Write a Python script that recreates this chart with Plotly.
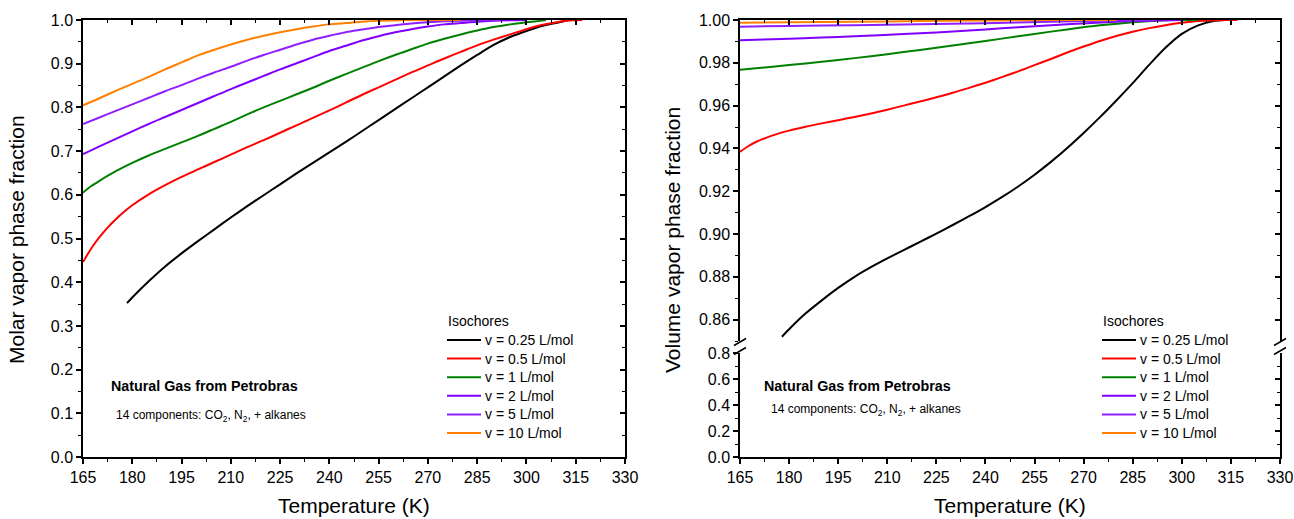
import plotly.graph_objects as go

# ---------------- data ----------------
series_names = ["v = 0.25 L/mol", "v = 0.5 L/mol", "v = 1 L/mol",
                "v = 2 L/mol", "v = 5 L/mol", "v = 10 L/mol"]
series_colors = ["#000000", "#FF0000", "#008000", "#7F00FF", "#8F1FFF", "#FF8000"]
legend_title = "Isochores"

# Molar vapor phase fraction along each isochore
t_molar_025 = [178.4, 180, 185, 190, 195, 200, 205, 210, 215, 220, 225, 230, 235, 240, 245,
               250, 255, 260, 265, 270, 275, 280, 285, 290, 295, 300, 305, 310, 313]
x_molar_025 = [0.352, 0.365, 0.402, 0.436, 0.466, 0.494, 0.521, 0.548, 0.574, 0.599, 0.624,
               0.649, 0.673, 0.697, 0.721, 0.746, 0.771, 0.796, 0.821, 0.846, 0.871, 0.896,
               0.920, 0.943, 0.961, 0.975, 0.987, 0.995, 1.0]

t_molar_05 = [165, 167.5, 170, 172.5, 175, 177.5, 180, 185, 190, 195, 200, 205, 210, 215,
              220, 225, 230, 235, 240, 245, 250, 255, 260, 265, 270, 275, 280, 285, 290,
              295, 300, 305, 310, 314, 317]
x_molar_05 = [0.446, 0.477, 0.503, 0.525, 0.544, 0.561, 0.576, 0.601, 0.622, 0.641, 0.658,
              0.675, 0.692, 0.709, 0.725, 0.742, 0.759, 0.776, 0.793, 0.811, 0.829, 0.846,
              0.863, 0.880, 0.896, 0.912, 0.927, 0.942, 0.955, 0.967, 0.979, 0.989, 0.996,
              0.9995, 1.0]

t_molar_1 = [165, 167.5, 170, 175, 180, 185, 190, 195, 200, 205, 210, 215, 220, 225, 230,
             235, 240, 245, 250, 255, 260, 265, 270, 275, 280, 285, 290, 295, 300, 303, 306]
x_molar_1 = [0.605, 0.620, 0.632, 0.654, 0.673, 0.690, 0.705, 0.720, 0.735, 0.751, 0.767,
             0.784, 0.800, 0.815, 0.830, 0.845, 0.861, 0.876, 0.891, 0.906, 0.920, 0.933,
             0.946, 0.957, 0.967, 0.976, 0.984, 0.990, 0.995, 0.997, 1.0]

t_molar_2 = [165, 170, 175, 180, 185, 190, 195, 200, 205, 210, 215, 220, 225, 230, 235, 240,
             245, 250, 255, 260, 265, 270, 275, 280, 285, 290, 295, 300]
x_molar_2 = [0.693, 0.711, 0.728, 0.745, 0.762, 0.778, 0.794, 0.810, 0.826, 0.842, 0.857,
             0.872, 0.887, 0.901, 0.915, 0.929, 0.941, 0.953, 0.963, 0.972, 0.979, 0.985,
             0.990, 0.993, 0.996, 0.998, 0.9993, 1.0]

t_molar_5 = [165, 170, 175, 180, 185, 190, 195, 200, 205, 210, 215, 220, 225, 230, 235, 240,
             245, 250, 255, 260, 265, 270, 275, 280, 286, 292]
x_molar_5 = [0.762, 0.777, 0.792, 0.807, 0.822, 0.837, 0.851, 0.866, 0.880, 0.893, 0.907,
             0.920, 0.932, 0.944, 0.955, 0.964, 0.972, 0.978, 0.984, 0.988, 0.992, 0.995,
             0.997, 0.998, 0.9995, 1.0]

t_molar_10 = [165, 170, 175, 180, 185, 190, 195, 200, 205, 210, 215, 220, 225, 230, 235, 240,
              245, 250, 255, 262.5, 270, 280]
x_molar_10 = [0.805, 0.821, 0.838, 0.854, 0.870, 0.887, 0.903, 0.919, 0.932, 0.944, 0.955,
              0.964, 0.972, 0.979, 0.985, 0.990, 0.993, 0.996, 0.998, 0.9993, 1.0, 1.0]

# Volume vapor phase fraction along each isochore
t_vol_025 = [177.8, 180, 185, 190, 195, 200, 205, 210, 215, 220, 225, 230, 235, 240, 245,
             250, 255, 260, 265, 270, 275, 280, 285, 290, 295, 300, 305, 310, 313]
x_vol_025 = [0.8520, 0.8555, 0.8628, 0.8690, 0.8748, 0.8800, 0.8845, 0.8886, 0.8925, 0.8963,
             0.9002, 0.9042, 0.9083, 0.9126, 0.9172, 0.9222, 0.9277, 0.9337, 0.9402, 0.9472,
             0.9546, 0.9624, 0.9705, 0.9790, 0.9870, 0.9935, 0.9975, 0.9996, 1.0]

t_vol_05 = [165, 167.5, 170, 175, 180, 185, 190, 195, 200, 205, 210, 215, 220, 225, 230, 235,
            240, 245, 250, 255, 260, 265, 270, 275, 280, 285, 290, 295, 300, 305, 310, 314,
            317]
x_vol_05 = [0.9384, 0.9410, 0.9431, 0.9461, 0.9483, 0.9501, 0.9517, 0.9532, 0.9547, 0.9563,
            0.9581, 0.9600, 0.9619, 0.9639, 0.9660, 0.9683, 0.9707, 0.9733, 0.9760, 0.9789,
            0.9818, 0.9848, 0.9876, 0.9902, 0.9925, 0.9945, 0.9962, 0.9976, 0.9987, 0.9995,
            0.9999, 1.0, 1.0]

t_vol_1 = [165, 175, 185, 195, 205, 215, 225, 235, 245, 255, 265, 275, 285, 292, 298, 305]
x_vol_1 = [0.9768, 0.9782, 0.9797, 0.9813, 0.9831, 0.9850, 0.9870, 0.9891, 0.9913, 0.9935,
           0.9956, 0.9975, 0.9990, 0.9997, 1.0, 1.0]

t_vol_2 = [165, 175, 190, 200, 215, 225, 240, 250, 265, 277, 289, 300]
x_vol_2 = [0.9905, 0.9910, 0.9918, 0.9924, 0.9934, 0.9942, 0.9956, 0.9966, 0.9980, 0.9990,
           0.9997, 1.0]

t_vol_5 = [165, 180, 200, 220, 240, 260, 275, 292]
x_vol_5 = [0.9969, 0.9972, 0.9976, 0.9980, 0.9985, 0.9992, 0.9997, 1.0]

t_vol_10 = [165, 180, 200, 220, 240, 260, 280]
x_vol_10 = [0.9987, 0.9989, 0.9992, 0.9995, 0.9998, 0.99995, 1.0]

molar_t = [t_molar_025, t_molar_05, t_molar_1, t_molar_2, t_molar_5, t_molar_10]
molar_x = [x_molar_025, x_molar_05, x_molar_1, x_molar_2, x_molar_5, x_molar_10]
vol_t = [t_vol_025, t_vol_05, t_vol_1, t_vol_2, t_vol_5, t_vol_10]
vol_x = [x_vol_025, x_vol_05, x_vol_1, x_vol_2, x_vol_5, x_vol_10]

# ---------------- layout helpers ----------------
W, H = 1294, 519
FONT = "Liberation Sans, Arial, Helvetica, sans-serif"


def fx(p):
    return p / W


def fy(p):
    return 1 - p / H


def axis_style(**kw):
    base = dict(showline=True, linecolor="black", linewidth=1.5, mirror=False,
                showgrid=False, zeroline=False, automargin=False, ticks="outside",
                ticklen=5, tickwidth=1.5, tickcolor="black",
                tickfont=dict(family=FONT, size=16, color="black"),
                minor=dict(ticks="outside", ticklen=3, tickwidth=1.2, tickcolor="black"))
    base.update(kw)
    return base


def inside_axis(**kw):
    base = dict(showline=True, linecolor="black", linewidth=1.5, showgrid=False,
                zeroline=False, automargin=False, ticks="inside", ticklen=5,
                tickwidth=1.5, tickcolor="black", showticklabels=False,
                minor=dict(ticks="inside", ticklen=3, tickwidth=1.2, tickcolor="black"))
    base.update(kw)
    return base


XR = [165, 330]
L_XDOM = [fx(83), fx(625)]
R_XDOM = [fx(740), fx(1280)]
L_YDOM = [fy(457), fy(20)]
R_LOW_DOM = [fy(457), fy(353)]
R_UP_DOM = [fy(341), fy(20)]

fig = go.Figure()

for name, color, tt, xx in zip(series_names, series_colors, molar_t, molar_x):
    fig.add_trace(go.Scatter(x=tt, y=xx, mode="lines", name=name, showlegend=False,
                             line=dict(color=color, width=2, shape="spline", smoothing=0.8),
                             xaxis="x", yaxis="y"))

for name, color, tt, xx in zip(series_names, series_colors, vol_t, vol_x):
    fig.add_trace(go.Scatter(x=tt, y=xx, mode="lines", name=name, showlegend=False,
                             line=dict(color=color, width=2, shape="spline", smoothing=0.8),
                             xaxis="x3", yaxis="y4"))

# empty traces so the frame axes (top/right) and the lower broken panel are laid out
for xa, ya in (("x2", "y2"), ("x3", "y3"), ("x3", "y5"), ("x4", "y6")):
    fig.add_trace(go.Scatter(x=[None], y=[None], xaxis=xa, yaxis=ya, showlegend=False,
                             hoverinfo="skip"))

fig.update_layout(
    width=W, height=H,
    margin=dict(l=0, r=0, t=0, b=0, autoexpand=False),
    paper_bgcolor="white", plot_bgcolor="white",
    font=dict(family=FONT, color="black"),
    showlegend=False,
    # left panel
    xaxis=axis_style(domain=L_XDOM, range=XR, anchor="y", tick0=165, dtick=15,
                     minor_dtick=7.5),
    xaxis2=inside_axis(domain=L_XDOM, range=XR, anchor="y", overlaying="x", side="top",
                       tick0=165, dtick=15, minor_dtick=7.5),
    yaxis=axis_style(domain=L_YDOM, range=[0, 1.0], anchor="x", tick0=0, dtick=0.1,
                     tickformat=".1f", minor_dtick=0.05),
    yaxis2=inside_axis(domain=L_YDOM, range=[0, 1.0], anchor="x", overlaying="y",
                       side="right", tick0=0, dtick=0.1, minor_dtick=0.05),
    # right panel (broken y axis)
    xaxis3=axis_style(domain=R_XDOM, range=XR, anchor="y3", tick0=165, dtick=15,
                      minor_dtick=7.5),
    xaxis4=inside_axis(domain=R_XDOM, range=XR, anchor="y4", overlaying="x3", side="top",
                       tick0=165, dtick=15, minor_dtick=7.5),
    yaxis3=axis_style(domain=R_LOW_DOM, range=[0, 0.8], anchor="x3", tick0=0, dtick=0.2,
                      tickformat=".1f", minor_dtick=0.1),
    yaxis4=axis_style(domain=R_UP_DOM, range=[0.85, 1.0], anchor="x3", tick0=0, dtick=0.02,
                      tickformat=".2f", minor_dtick=0.01),
    yaxis5=inside_axis(domain=R_LOW_DOM, range=[0, 0.8], anchor="x3", overlaying="y3",
                       side="right", tick0=0, dtick=0.2, minor_dtick=0.1),
    yaxis6=inside_axis(domain=R_UP_DOM, range=[0.85, 1.0], anchor="x3", overlaying="y4",
                       side="right", tick0=0, dtick=0.02, minor_dtick=0.01),
)

# axis titles and panel captions
notes = [
    dict(text="Temperature (K)", x=fx(354), y=fy(519), size=21, angle=0, xa="center",
         ya="bottom"),
    dict(text="Temperature (K)", x=fx(1010), y=fy(519), size=21, angle=0, xa="center",
         ya="bottom"),
    dict(text="Molar vapor phase fraction", x=fx(16), y=fy(240), size=21, angle=-90,
         xa="center", ya="middle"),
    dict(text="Volume vapor phase fraction", x=fx(672), y=fy(240), size=21, angle=-90,
         xa="center", ya="middle"),
    dict(text="<b>Natural Gas from Petrobras</b>", x=fx(109), y=fy(386), size=14.3, angle=0,
         xa="left", ya="middle"),
    dict(text="14 components: CO<sub>2</sub>, N<sub>2</sub>, + alkanes", x=fx(114),
         y=fy(416), size=12, angle=0, xa="left", ya="middle"),
    dict(text="<b>Natural Gas from Petrobras</b>", x=fx(762), y=fy(386), size=14.3, angle=0,
         xa="left", ya="middle"),
    dict(text="14 components: CO<sub>2</sub>, N<sub>2</sub>, + alkanes", x=fx(769),
         y=fy(410), size=12, angle=0, xa="left", ya="middle"),
]
for n in notes:
    fig.add_annotation(text=n["text"], x=n["x"], y=n["y"], xref="paper", yref="paper",
                       xanchor=n["xa"], yanchor=n["ya"], showarrow=False,
                       textangle=n["angle"],
                       font=dict(family=FONT, size=n["size"], color="black"))

# isochore keys in each panel: title, line sample and label per series
for left in (447, 1102):
    fig.add_annotation(text=legend_title, x=fx(left - 1), y=fy(321), xref="paper",
                       yref="paper", xanchor="left", yanchor="middle", showarrow=False,
                       font=dict(family=FONT, size=14, color="black"))
    for i, (name, color) in enumerate(zip(series_names, series_colors)):
        cy = 340 + i * 18.6
        fig.add_shape(type="line", xref="paper", yref="paper",
                      x0=fx(left), x1=fx(left + 34), y0=fy(cy), y1=fy(cy),
                      line=dict(color=color, width=2))
        fig.add_annotation(text=name, x=fx(left + 36), y=fy(cy), xref="paper",
                           yref="paper", xanchor="left", yanchor="middle", showarrow=False,
                           font=dict(family=FONT, size=14, color="black"))

# axis-break marks on both sides of the right panel
for ax_px in (740, 1280):
    for cy in (342, 351):
        fig.add_shape(type="line", xref="paper", yref="paper",
                      x0=fx(ax_px - 6), y0=fy(cy + 3.5), x1=fx(ax_px + 6), y1=fy(cy - 3.5),
                      line=dict(color="black", width=1.5))

fig.write_html("out.html")
